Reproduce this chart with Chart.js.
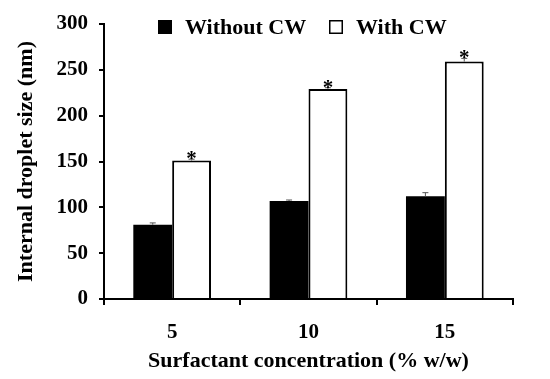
<!DOCTYPE html>
<html>
<head>
<meta charset="utf-8">
<script src="https://cdn.jsdelivr.net/npm/chart.js@4"></script>
<style>
  html, body { margin: 0; padding: 0; background: #fff; }
  #wrap { width: 550px; height: 379px; }
</style>
</head>
<body>
<div id="wrap"><canvas id="chart"></canvas></div>
<script>
// Data
const categories = ['5', '10', '15'];
const withoutCW = [81, 107, 112];
const withoutCWErr = [2, 1, 4];
const withCW = [151, 229, 259];
const withCWErr = [1.5, 1.5, 3.5];
const significant = [true, true, true];
const yTicks = [0, 50, 100, 150, 200, 250, 300];

const FONT = "'Liberation Serif', 'DejaVu Serif', serif";

// error bars + asterisks, drawn through the scales
const errorBars = {
  id: 'errorBars',
  afterDatasetsDraw(chart) {
    const ctx = chart.ctx;
    const y = chart.scales.y;
    const errs = [withoutCWErr, withCWErr];
    ctx.save();
    ctx.strokeStyle = '#555';
    ctx.lineWidth = 1;
    chart.data.datasets.forEach((ds, di) => {
      const meta = chart.getDatasetMeta(di);
      meta.data.forEach((bar, i) => {
        const v = ds.data[i];
        const e = errs[di][i];
        const yt = y.getPixelForValue(v + e);
        const yb = y.getPixelForValue(v);
        ctx.beginPath();
        ctx.moveTo(bar.x, yb);
        ctx.lineTo(bar.x, yt);
        ctx.moveTo(bar.x - 3, yt);
        ctx.lineTo(bar.x + 3, yt);
        ctx.stroke();
        if (di === 1 && significant[i]) {
          ctx.fillStyle = '#000';
          ctx.font = 'bold 21px ' + FONT;
          ctx.textAlign = 'center';
          ctx.textBaseline = 'alphabetic';
          ctx.fillText('*', bar.x, yt + 6);
        }
      });
    });
    ctx.restore();
  }
};

// legend drawn inside the plot top
const topLegend = {
  id: 'topLegend',
  afterDraw(chart) {
    const ctx = chart.ctx;
    const items = [
      { x: 158, ds: chart.data.datasets[0] },
      { x: 329, ds: chart.data.datasets[1] }
    ];
    ctx.save();
    ctx.font = 'bold 22px ' + FONT;
    ctx.textBaseline = 'middle';
    ctx.textAlign = 'left';
    items.forEach(it => {
      ctx.fillStyle = it.ds.backgroundColor;
      ctx.fillRect(it.x, 20, 14, 14);
      ctx.strokeStyle = '#000';
      ctx.lineWidth = 1.5;
      ctx.strokeRect(it.x + 0.75, 20.75, 12.5, 12.5);
      ctx.fillStyle = '#000';
      ctx.fillText(it.ds.label, it.x + 27, 28);
    });
    ctx.restore();
  }
};

new Chart(document.getElementById('chart'), {
  type: 'bar',
  data: {
    labels: categories,
    datasets: [
      {
        label: 'Without CW',
        data: withoutCW,
        backgroundColor: '#000',
        borderColor: '#000',
        borderWidth: 0
      },
      {
        label: 'With CW',
        data: withCW,
        backgroundColor: '#fff',
        borderColor: '#000',
        borderWidth: 2,
        borderSkipped: 'bottom'
      }
    ]
  },
  options: {
    responsive: true,
    maintainAspectRatio: false,
    animation: false,
    layout: { padding: { top: 24, right: 37, left: 0, bottom: 0 } },
    datasets: { bar: { categoryPercentage: 0.57, barPercentage: 1.0 } },
    plugins: {
      legend: { display: false },
      tooltip: { enabled: false }
    },
    scales: {
      x: {
        afterFit: s => { s.height = 80; },
        border: { color: '#000', width: 2 },
        grid: { offset: true, drawOnChartArea: false, drawTicks: true, tickLength: 6, color: '#000', lineWidth: 2 },
        ticks: { color: '#000', padding: 15, font: { family: FONT, size: 21, weight: 'bold' } },
        title: {
          display: true,
          text: 'Surfactant concentration (% w/w)',
          color: '#000',
          padding: { top: 0, bottom: 4 },
          font: { family: FONT, size: 22, weight: 'bold' }
        }
      },
      y: {
        min: 0,
        max: 300,
        afterFit: s => { s.width = 104; },
        afterBuildTicks: s => { s.ticks = yTicks.map(v => ({ value: v })); },
        border: { color: '#000', width: 2 },
        grid: { drawOnChartArea: false, drawTicks: true, tickLength: 5, color: '#000', lineWidth: 2 },
        ticks: { color: '#000', padding: 11, font: { family: FONT, size: 21, weight: 'bold' } },
        title: {
          display: true,
          text: 'Internal droplet size (nm)',
          color: '#000',
          padding: { top: 13, bottom: 0 },
          font: { family: FONT, size: 22, weight: 'bold' }
        }
      }
    }
  },
  plugins: [errorBars, topLegend]
});
</script>
</body>
</html>
